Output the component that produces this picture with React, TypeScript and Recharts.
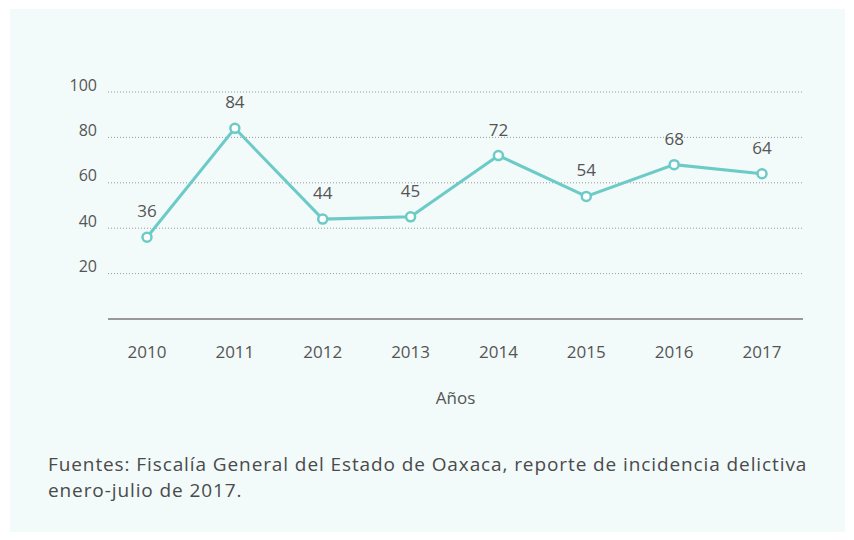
import { CartesianGrid, LabelList, Line, LineChart, XAxis, YAxis } from "recharts";

const years = ["2010", "2011", "2012", "2013", "2014", "2015", "2016", "2017"];
const values = [36, 84, 44, 45, 72, 54, 68, 64];
const yTicks = [20, 40, 60, 80, 100];

const data = years.map((y, i) => ({ year: y, value: values[i] }));

const TEAL = "#6ccbc6";
const TEXT = "#555";
const FONT = "'Open Sans', Roboto, sans-serif";

// y tick labels sit a little above their gridlines in the reference
const YTick = ({ x, y, payload }: any) => (
  <text x={x} y={y - 7} dy="0.35em" textAnchor="end" fill={TEXT} fontSize={16} fontFamily={FONT}>
    {payload.value}
  </text>
);

export default function App() {
  return (
    <div style={{ position: "relative", width: 854, height: 540, margin: -8, background: "#fff", fontFamily: FONT }}>
      <div style={{ position: "absolute", left: 10, top: 9, width: 835, height: 531, background: "#f2fafa" }} />
      <div style={{ position: "absolute", left: 0, top: 0 }}>
        <LineChart width={854} height={420} data={data} margin={{ top: 92, right: 51, left: 0, bottom: 0 }}>
          <CartesianGrid vertical={false} stroke="#9a9a9a" strokeDasharray="1 2" />
          <XAxis
            dataKey="year"
            height={101}
            padding={{ left: 39, right: 41 }}
            axisLine={{ stroke: "#999", strokeWidth: 2 }}
            tickLine={false}
            tickSize={0}
            tickMargin={27}
            tick={{ fill: TEXT, fontSize: 17, fontFamily: FONT }}
            label={{ value: "Años", position: "insideBottom", offset: 16, fill: TEXT, fontSize: 17, fontFamily: FONT }}
          />
          <YAxis
            width={108}
            domain={[0, 100]}
            ticks={yTicks}
            axisLine={false}
            tickLine={false}
            tickSize={0}
            tickMargin={11}
            tick={<YTick />}
          />
          <Line
            dataKey="value"
            stroke={TEAL}
            strokeWidth={3}
            dot={{ r: 4.5, fill: "#fff", stroke: TEAL, strokeWidth: 2.5 }}
            activeDot={false}
            isAnimationActive={false}
          >
            <LabelList dataKey="value" position="top" offset={20} fill={TEXT} fontSize={17} fontFamily={FONT} />
          </Line>
        </LineChart>
      </div>
      <div
        style={{
          position: "absolute",
          left: 48,
          top: 451,
          fontSize: 19,
          lineHeight: "26px",
          letterSpacing: 0.9,
          color: "#4a4a4a",
          width: 800,
          whiteSpace: "nowrap",
        }}
      >
        Fuentes: Fiscalía General del Estado de Oaxaca, reporte de incidencia delictiva
        <br />
        enero-julio de 2017.
      </div>
    </div>
  );
}
